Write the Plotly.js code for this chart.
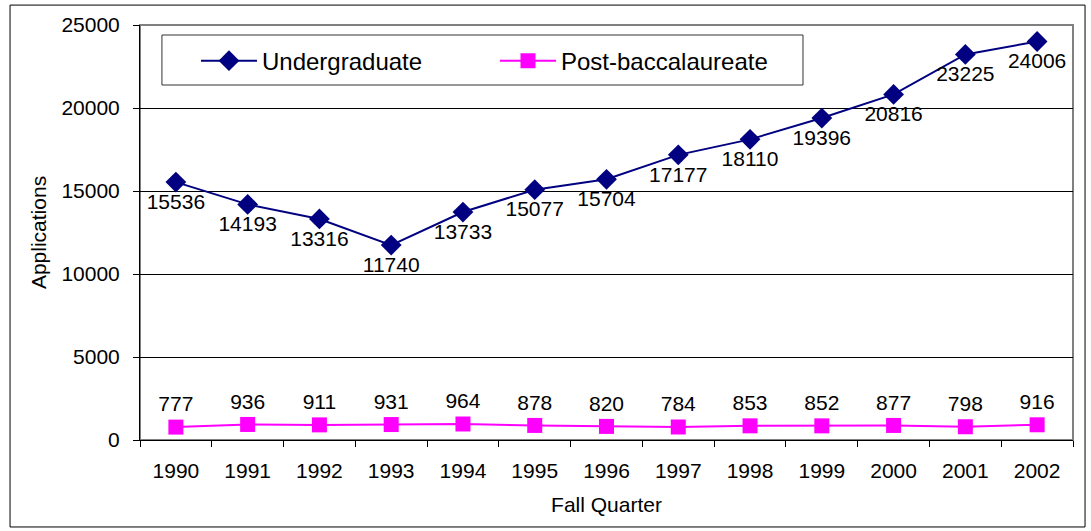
<!DOCTYPE html>
<html>
<head>
<meta charset="utf-8">
<script src="https://cdn.plot.ly/plotly-3.0.1.min.js"></script>
<style>html,body{margin:0;padding:0;background:#fff;}#chart{width:1091px;height:531px;}</style>
</head>
<body>
<div id="chart"></div>
<script>
const years = ['1990','1991','1992','1993','1994','1995','1996','1997','1998','1999','2000','2001','2002'];
const undergraduate = [15536,14193,13316,11740,13733,15077,15704,17177,18110,19396,20816,23225,24006];
const postBacc = [777,936,911,931,964,878,820,784,853,852,877,798,916];
const yTicks = [0,5000,10000,15000,20000,25000];

const font = {family: 'Liberation Sans, Arial, sans-serif', size: 21, color: '#000'};
const legendFont = {family: 'Liberation Sans, Arial, sans-serif', size: 24, color: '#000'};

const traces = [
  {
    x: years, y: undergraduate, name: 'Undergraduate', type: 'scatter', mode: 'lines+markers+text',
    line: {color: '#000080', width: 2},
    marker: {symbol: 'diamond', size: 16, color: '#000080'},
    texttemplate: '%{y:.0f}', textposition: 'bottom center',
    textfont: font, cliponaxis: false, legend: 'legend'
  },
  {
    x: years, y: postBacc, name: 'Post-baccalaureate', type: 'scatter', mode: 'lines+markers+text',
    line: {color: '#FF00FF', width: 2},
    marker: {symbol: 'square', size: 15, color: '#FF00FF'},
    texttemplate: '%{y:.0f}', textposition: 'top center',
    textfont: font, cliponaxis: false, legend: 'legend2'
  }
];

const legendBase = {
  y: 0.913, xanchor: 'left', yanchor: 'middle',
  orientation: 'h', bgcolor: 'rgba(0,0,0,0)', borderwidth: 0,
  font: legendFont, itemwidth: 56
};

const layout = {
  width: 1091, height: 531,
  margin: {l: 140, r: 18, t: 25, b: 91},
  paper_bgcolor: '#fff', plot_bgcolor: '#fff',
  font: font,
  showlegend: true,
  legend: Object.assign({}, legendBase, {x: 0.0600}),
  legend2: Object.assign({}, legendBase, {x: 0.3805}),
  xaxis: {
    type: 'category', range: [-0.5, 12.5],
    showline: true, linecolor: '#000', linewidth: 1,
    ticks: 'outside', ticklen: 6, tickcolor: '#000', tickson: 'boundaries',
    ticklabelstandoff: 12,
    showgrid: false, zeroline: false, fixedrange: true,
    tickfont: font,
    title: {text: 'Fall Quarter', font: font, standoff: 16}
  },
  yaxis: {
    range: [0, 25000], tickvals: yTicks, ticktext: yTicks.map(String),
    showline: true, linecolor: '#000', linewidth: 1,
    ticks: 'outside', ticklen: 6, tickcolor: '#000',
    ticklabelstandoff: 9,
    showgrid: true, gridcolor: '#000', gridwidth: 1, zeroline: false,
    tickfont: font,
    title: {text: 'Applications', font: font, standoff: 9}
  },
  shapes: [
    {type: 'rect', xref: 'paper', yref: 'paper', x0: 0, x1: 1, y0: 0, y1: 1,
     line: {color: '#808080', width: 2}, layer: 'below'},
    {type: 'rect', xref: 'paper', yref: 'paper', x0: -0.1393, x1: 1.0129, y0: -0.2096, y1: 1.048,
     line: {color: '#000', width: 1}, layer: 'below'},
    {type: 'rect', xref: 'paper', yref: 'paper', x0: 0.0235, x1: 0.7106, y0: 0.8554, y1: 0.9759,
     line: {color: '#333', width: 1}, fillcolor: '#fff', layer: 'below'}
  ]
};

Plotly.newPlot('chart', traces, layout, {displayModeBar: false, staticPlot: true});
</script>
</body>
</html>
